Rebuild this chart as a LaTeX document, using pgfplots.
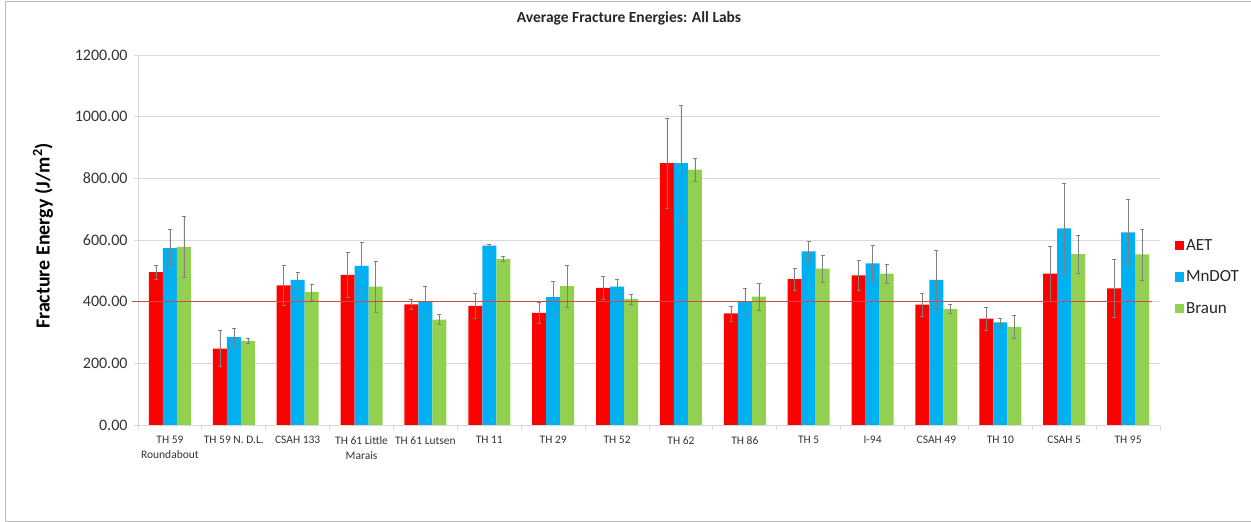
\documentclass[border=0pt]{standalone}
\usepackage{pgfplots}
\pgfplotsset{compat=1.18}
\usepackage{pgfplotstable}
\usepackage{fontspec}
\setmainfont{Carlito}

\definecolor{aetred}{HTML}{FF0000}
\definecolor{mnblue}{HTML}{00B0F0}
\definecolor{brgreen}{HTML}{92D050}
\definecolor{limitred}{HTML}{D04848}
\definecolor{gridgray}{HTML}{D9D9D9}
\definecolor{errgray}{HTML}{808080}

% Average fracture energy (J/m^2) per project, with standard deviations
\pgfplotstableread{
idx aet aete mn  mne br  bre
0   496 23   574 62  578 100
1   248 58   285 30  273 7
2   453 65   471 26  432 26
3   487 73   516 77  449 83
4   391 16   400 50  342 16
5   386 40   582 3   539 8
6   364 35   415 50  450 67
7   445 36   449 24  408 16
8   849 145  849 189 828 38
9   362 24   400 42  416 44
10  473 36   563 32  507 44
11  485 48   524 59  491 30
12  390 36   471 97  376 14
13  345 38   333 13  318 37
14  491 90   638 145 554 63
15  443 93   625 107 553 82
}\fracdata

\pgfplotsset{
  stdbars/.style={error bars/.cd, y dir=both, y explicit,
    error bar style={errgray, line width=0.5bp},
    error mark options={errgray, line width=0.5bp, mark size=2bp, rotate=90}},
}

\begin{document}
\begin{tikzpicture}
\path[use as bounding box] (0,0) rectangle (1251bp,522bp);
% chart frame
\draw[gray!55, line width=1bp] (1260bp,520.5bp) -- (5bp,520.5bp) -- (5bp,1bp) -- (1260bp,1bp);

\begin{axis}[
  at={(138bp,97bp)}, anchor=south west,
  scale only axis, width=1022bp, height=370bp,
  clip=false,
  xmin=-0.5, xmax=15.5, ymin=0, ymax=1200,
  axis x line*=bottom, axis y line*=left,
  axis line style={gridgray, line width=0.8bp, -},
  ybar=0pt, bar width=14bp,
  xtick={0,...,15},
  xticklabels={{TH 59\\Roundabout},{TH 59 N. D.L.},{CSAH 133},{TH 61 Little\\Marais},{TH 61 Lutsen},{TH 11},{TH 29},{TH 52},{TH 62},{TH 86},{TH 5},{I-94},{CSAH 49},{TH 10},{CSAH 5},{TH 95}},
  xticklabel style={font=\fontsize{11.5bp}{15bp}\selectfont, align=center, text=black!80, yshift=-4bp},
  major x tick style={draw=none},
  minor xtick={-0.5,0.5,...,15.5},
  minor x tick style={gridgray, line width=0.8bp},
  minor tick length=5bp,
  tick align=outside,
  ytick={0,200,...,1200},
  ymajorgrids, grid style={gridgray, line width=0.8bp},
  major y tick style={gridgray, line width=0.8bp},
  major tick length=4bp,
  yticklabel style={font=\fontsize{16bp}{18bp}\selectfont, text=black!80, xshift=-3bp,
    /pgf/number format/assume math mode=true,
    /pgf/number format/fixed, /pgf/number format/fixed zerofill,
    /pgf/number format/precision=2, /pgf/number format/1000 sep={}},
  legend style={at={(1.0145,0.40)}, anchor=west, draw=none, fill=none,
    font=\fontsize{17bp}{19bp}\selectfont, text=black!85,
    row sep=15bp, inner sep=0pt,
    /tikz/every even column/.append style={column sep=4bp}},
  legend cell align=left,
  legend image code/.code={\fill[#1] (0bp,-4.5bp) rectangle (9bp,4.5bp);},
]
\addplot[fill=aetred, draw=none, stdbars]
  table[x=idx, y=aet, y error=aete] {\fracdata};
\addplot[fill=mnblue, draw=none, stdbars]
  table[x=idx, y=mn, y error=mne] {\fracdata};
\addplot[fill=brgreen, draw=none, stdbars]
  table[x=idx, y=br, y error=bre] {\fracdata};
% 400 J/m^2 threshold across the chart
\addplot[draw=limitred, line width=1.6bp, sharp plot, mark=none, forget plot]
  coordinates {(-0.594,400) (15.38,400)};
\legend{AET, MnDOT, Braun}
\end{axis}

\node[font=\bfseries\fontsize{15.5bp}{18bp}\selectfont, text=black!85] at (629bp,504bp) {Average Fracture Energies: All Labs};
\node[font=\bfseries\fontsize{20bp}{22bp}\selectfont, text=black, rotate=90] at (43bp,286bp) {Fracture Energy (J/m\textsuperscript{2})};
\end{tikzpicture}
\end{document}
